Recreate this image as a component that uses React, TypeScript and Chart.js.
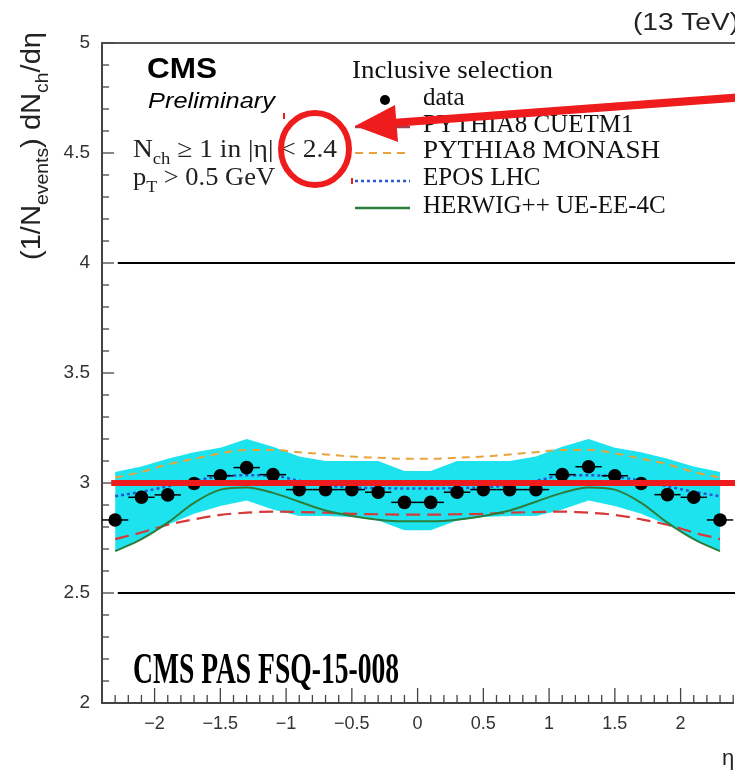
import React, { useEffect, useRef } from "react";
import { Chart, registerables } from "chart.js";

Chart.register(...registerables);

// ---------- data ----------
const etaBins = [-2.3, -2.1, -1.9, -1.7, -1.5, -1.3, -1.1, -0.9, -0.7, -0.5, -0.3, -0.1, 0.1, 0.3, 0.5, 0.7, 0.9, 1.1, 1.3, 1.5, 1.7, 1.9, 2.1, 2.3];
const binHalfWidth = 0.1;
const dataValues = [2.832, 2.935, 2.946, 2.998, 3.033, 3.07, 3.038, 2.97, 2.97, 2.97, 2.958, 2.912, 2.912, 2.958, 2.97, 2.97, 2.97, 3.038, 3.074, 3.033, 2.998, 2.947, 2.935, 2.832];
const bandUpper = [3.05, 3.075, 3.11, 3.14, 3.16, 3.2, 3.165, 3.12, 3.1, 3.1, 3.1, 3.055, 3.055, 3.1, 3.1, 3.1, 3.12, 3.165, 3.2, 3.16, 3.14, 3.11, 3.075, 3.05];
const bandLower = [2.69, 2.745, 2.81, 2.86, 2.895, 2.92, 2.88, 2.85, 2.85, 2.845, 2.83, 2.785, 2.785, 2.83, 2.845, 2.85, 2.85, 2.88, 2.92, 2.895, 2.86, 2.81, 2.745, 2.69];
const cuetm1 = [2.745, 2.775, 2.81, 2.835, 2.855, 2.865, 2.87, 2.868, 2.865, 2.86, 2.858, 2.856, 2.856, 2.858, 2.86, 2.865, 2.868, 2.87, 2.865, 2.855, 2.835, 2.81, 2.775, 2.745];
const monash = [3.025, 3.05, 3.085, 3.11, 3.135, 3.15, 3.15, 3.14, 3.13, 3.12, 3.115, 3.11, 3.11, 3.115, 3.12, 3.13, 3.14, 3.15, 3.15, 3.135, 3.11, 3.085, 3.05, 3.025];
const eposLhc = [2.94, 2.96, 2.985, 3.01, 3.03, 3.035, 3.033, 3.01, 2.99, 2.98, 2.977, 2.975, 2.975, 2.977, 2.98, 2.99, 3.01, 3.033, 3.035, 3.03, 3.01, 2.985, 2.96, 2.94];
const herwig = [2.69, 2.745, 2.82, 2.91, 2.97, 2.98, 2.955, 2.915, 2.875, 2.85, 2.833, 2.826, 2.826, 2.833, 2.85, 2.875, 2.915, 2.955, 2.98, 2.97, 2.91, 2.82, 2.745, 2.69];

const xTickValues = [-2, -1.5, -1, -0.5, 0, 0.5, 1, 1.5, 2];
const yTickValues = [2, 2.5, 3, 3.5, 4, 4.5, 5];
const blackLineValues = [4, 2.5];
const redLineValue = 3;

const legendLabels = ["data", "PYTHIA8 CUETM1", "PYTHIA8 MONASH", "EPOS LHC", "HERWIG++ UE-EE-4C"];

// ---------- styles ----------
const SANS = '"Liberation Sans", Arial, Helvetica, sans-serif';
const SERIF = '"Liberation Serif", "Times New Roman", serif';
const CYAN = "#1de3ee";
const C_CUETM1 = "#d43a3a";
const C_MONASH = "#e8a43c";
const C_EPOS = "#2b55d4";
const C_HERWIG = "#2c7d3c";
const RED = "#ee1c1c";

type Seg = { t: string; sub?: boolean };

function drawRich(ctx: CanvasRenderingContext2D, segs: Seg[], x: number, y: number, size: number, family: string, targetWidth?: number, weight = "", style = "") {
  const subSize = Math.round(size * 0.68);
  const fontFor = (s: Seg) => `${style} ${weight} ${s.sub ? subSize : size}px ${family}`.trim();
  let total = 0;
  const widths = segs.map((s) => {
    ctx.font = fontFor(s);
    const w = ctx.measureText(s.t).width;
    total += w;
    return w;
  });
  const sx = targetWidth ? targetWidth / total : 1;
  ctx.save();
  ctx.translate(x, y);
  ctx.scale(sx, 1);
  ctx.textAlign = "left";
  ctx.textBaseline = "alphabetic";
  let cx = 0;
  segs.forEach((s, i) => {
    ctx.font = fontFor(s);
    ctx.fillText(s.t, cx, s.sub ? size * 0.28 : 0);
    cx += widths[i];
  });
  ctx.restore();
}

const decorPlugin = {
  id: "decor",
  afterDatasetsDraw(chart: any) {
    const ctx: CanvasRenderingContext2D = chart.ctx;
    const xs = chart.scales.x;
    const ys = chart.scales.y;
    ctx.save();
    ctx.strokeStyle = "#000";
    ctx.lineWidth = 1.5;
    etaBins.forEach((e, i) => {
      const py = ys.getPixelForValue(dataValues[i]);
      ctx.beginPath();
      ctx.moveTo(xs.getPixelForValue(e - binHalfWidth), py);
      ctx.lineTo(xs.getPixelForValue(e + binHalfWidth), py);
      ctx.stroke();
    });
    ctx.restore();
  },
  afterDraw(chart: any) {
    const ctx: CanvasRenderingContext2D = chart.ctx;
    const xs = chart.scales.x;
    const ys = chart.scales.y;
    const area = chart.chartArea;
    ctx.save();

    // top frame line
    ctx.strokeStyle = "#555";
    ctx.lineWidth = 2;
    ctx.beginPath();
    ctx.moveTo(area.left - 1, area.top);
    ctx.lineTo(area.right + 2, area.top);
    ctx.stroke();

    // inward ticks
    ctx.lineWidth = 1.3;
    ctx.strokeStyle = "#444";
    for (let k = -24; k <= 24; k++) {
      const px = xs.getPixelForValue(k / 10);
      const len = k % 5 === 0 ? 15 : 8;
      ctx.beginPath();
      ctx.moveTo(px, area.bottom);
      ctx.lineTo(px, area.bottom - len);
      ctx.stroke();
    }
    for (let k = 20; k <= 50; k++) {
      const py = ys.getPixelForValue(k / 10);
      const len = k % 5 === 0 ? 12 : 7;
      ctx.beginPath();
      ctx.moveTo(area.left, py);
      ctx.lineTo(area.left + len, py);
      ctx.stroke();
    }

    // black horizontal lines
    ctx.strokeStyle = "#000";
    ctx.lineWidth = 2;
    blackLineValues.forEach((v) => {
      const py = ys.getPixelForValue(v);
      ctx.beginPath();
      ctx.moveTo(xs.getPixelForValue(-2.28), py);
      ctx.lineTo(area.right + 5, py);
      ctx.stroke();
    });

    // red horizontal line
    ctx.strokeStyle = RED;
    ctx.lineWidth = 6;
    const ry = ys.getPixelForValue(redLineValue);
    ctx.beginPath();
    ctx.moveTo(xs.getPixelForValue(-2.33), ry);
    ctx.lineTo(area.right + 5, ry);
    ctx.stroke();

    // texts
    ctx.fillStyle = "#000";
    drawRich(ctx, [{ t: "CMS" }], 147, 78, 30, SANS, 70, "bold");
    drawRich(ctx, [{ t: "Preliminary" }], 148, 108, 22, SANS, 127, "", "italic");
    ctx.fillStyle = "#222";
    drawRich(ctx, [{ t: "N" }, { t: "ch", sub: true }, { t: " \u2265 1 in |\u03b7| < 2.4" }], 133, 157, 25, SERIF, 204);
    drawRich(ctx, [{ t: "p" }, { t: "T", sub: true }, { t: " > 0.5 GeV" }], 133, 185, 25, SERIF, 142);
    ctx.fillStyle = "#111";
    drawRich(ctx, [{ t: "Inclusive selection" }], 352, 78, 25, SERIF, 201);

    // legend
    const rows = [105, 132, 158, 185, 213];
    legendLabels.forEach((lab, i) => {
      ctx.fillStyle = "#111";
      drawRich(ctx, [{ t: lab }], 423, rows[i], 25, SERIF, lab === "PYTHIA8 MONASH" ? 237 : undefined);
    });
    ctx.fillStyle = "#000";
    ctx.beginPath();
    ctx.arc(385, 100, 5, 0, Math.PI * 2);
    ctx.fill();
    const sample = (y: number, color: string, dash: number[], w: number) => {
      ctx.save();
      ctx.strokeStyle = color;
      ctx.lineWidth = w;
      ctx.setLineDash(dash);
      ctx.beginPath();
      ctx.moveTo(355, y);
      ctx.lineTo(410, y);
      ctx.stroke();
      ctx.restore();
    };
    sample(127, "#a04050", [], 2.5);
    sample(153, C_MONASH, [8, 6], 2);
    sample(181, C_EPOS, [3, 3], 2.5);
    sample(208, C_HERWIG, [], 2.5);

    // CMS PAS
    ctx.fillStyle = "#000";
    drawRich(ctx, [{ t: "CMS PAS FSQ-15-008" }], 133, 683, 44, SERIF, 266, "bold");

    // (13 TeV)
    ctx.fillStyle = "#222";
    drawRich(ctx, [{ t: "(13 TeV)" }], 633, 30, 23, SANS, 106);

    // eta axis title
    drawRich(ctx, [{ t: "\u03b7" }], 722, 765, 22, SANS);

    // y axis title (rotated)
    ctx.save();
    ctx.translate(40, 260);
    ctx.rotate(-Math.PI / 2);
    ctx.fillStyle = "#222";
    drawRich(ctx, [{ t: "(1/N" }, { t: "events", sub: true }, { t: ") dN" }, { t: "ch", sub: true }, { t: "/d\u03b7" }], 0, 0, 27, SANS, 228);
    ctx.restore();

    // red arrow
    ctx.strokeStyle = RED;
    ctx.fillStyle = RED;
    ctx.lineWidth = 8;
    ctx.setLineDash([]);
    ctx.beginPath();
    ctx.moveTo(745, 97);
    ctx.lineTo(392, 123);
    ctx.stroke();
    ctx.beginPath();
    ctx.moveTo(355, 126);
    ctx.lineTo(398, 142);
    ctx.lineTo(395, 105);
    ctx.closePath();
    ctx.fill();

    // red circle
    ctx.lineWidth = 6;
    ctx.beginPath();
    ctx.ellipse(315, 149, 34, 36, 0, 0, Math.PI * 2);
    ctx.stroke();

    // small red marks
    ctx.lineWidth = 2;
    ctx.beginPath();
    ctx.moveTo(284, 113);
    ctx.lineTo(284, 119);
    ctx.moveTo(352, 178);
    ctx.lineTo(352, 184);
    ctx.stroke();

    ctx.restore();
  },
};

const fmt = (v: number) => (v < 0 ? "\u2212" + Math.abs(v) : String(v));

export default function App() {
  const ref = useRef<HTMLCanvasElement>(null);
  useEffect(() => {
    const canvas = ref.current;
    if (!canvas) return;
    const pts = (arr: number[]) => etaBins.map((e, i) => ({ x: e, y: arr[i] }));
    const line = (label: string, arr: number[], color: string, dash: number[], w: number, order: number) => ({
      label,
      data: pts(arr),
      borderColor: color,
      borderWidth: w,
      borderDash: dash,
      pointRadius: 0,
      fill: false,
      cubicInterpolationMode: "monotone" as const,
      order,
    });
    const chart = new Chart(canvas, {
      type: "line",
      data: {
        datasets: [
          {
            label: "data",
            data: pts(dataValues),
            showLine: false,
            pointRadius: 6.8,
            pointBackgroundColor: "#000",
            pointBorderColor: "#000",
            pointBorderWidth: 0,
            order: 0,
          },
          line("PYTHIA8 CUETM1", cuetm1, C_CUETM1, [14, 7], 2.2, 4),
          line("PYTHIA8 MONASH", monash, C_MONASH, [8, 6], 2, 3),
          line("EPOS LHC", eposLhc, C_EPOS, [3, 3], 2.5, 2),
          line("HERWIG++ UE-EE-4C", herwig, C_HERWIG, [], 2, 1),
          {
            label: "band upper",
            data: pts(bandUpper),
            borderWidth: 0,
            borderColor: CYAN,
            backgroundColor: CYAN,
            pointRadius: 0,
            fill: "+1",
            tension: 0,
            order: 10,
          },
          {
            label: "band lower",
            data: pts(bandLower),
            borderWidth: 0,
            borderColor: CYAN,
            pointRadius: 0,
            fill: false,
            tension: 0,
            order: 11,
          },
        ],
      },
      options: {
        animation: false,
        responsive: false,
        devicePixelRatio: 1,
        layout: { padding: { top: 43, right: 2, left: 0, bottom: 0 } },
        plugins: { legend: { display: false }, tooltip: { enabled: false } },
        scales: {
          x: {
            type: "linear",
            min: -2.4,
            max: 2.4,
            grid: { display: false, drawTicks: false },
            border: { display: true, color: "#444", width: 2 },
            ticks: { font: { family: SANS, size: 18 }, color: "#333", padding: 10, maxRotation: 0, callback: (v: any) => fmt(Number(v)) },
            afterBuildTicks: (s: any) => {
              s.ticks = xTickValues.map((v) => ({ value: v }));
            },
            afterFit: (s: any) => {
              s.height = 68;
            },
          },
          y: {
            type: "linear",
            min: 2,
            max: 5,
            grid: { display: false, drawTicks: false },
            border: { display: true, color: "#444", width: 2 },
            ticks: { font: { family: SANS, size: 19 }, color: "#333", padding: 12, callback: (v: any) => String(v) },
            afterBuildTicks: (s: any) => {
              s.ticks = yTickValues.map((v) => ({ value: v }));
            },
            afterFit: (s: any) => {
              s.width = 102;
            },
          },
        },
      },
      plugins: [decorPlugin],
    });
    return () => chart.destroy();
  }, []);
  return (
    <div style={{ position: "fixed", left: 0, top: 0, width: 735, height: 771, overflow: "hidden", background: "#fff" }}>
      <canvas ref={ref} width={740} height={771} style={{ width: 740, height: 771, display: "block" }} />
    </div>
  );
}
